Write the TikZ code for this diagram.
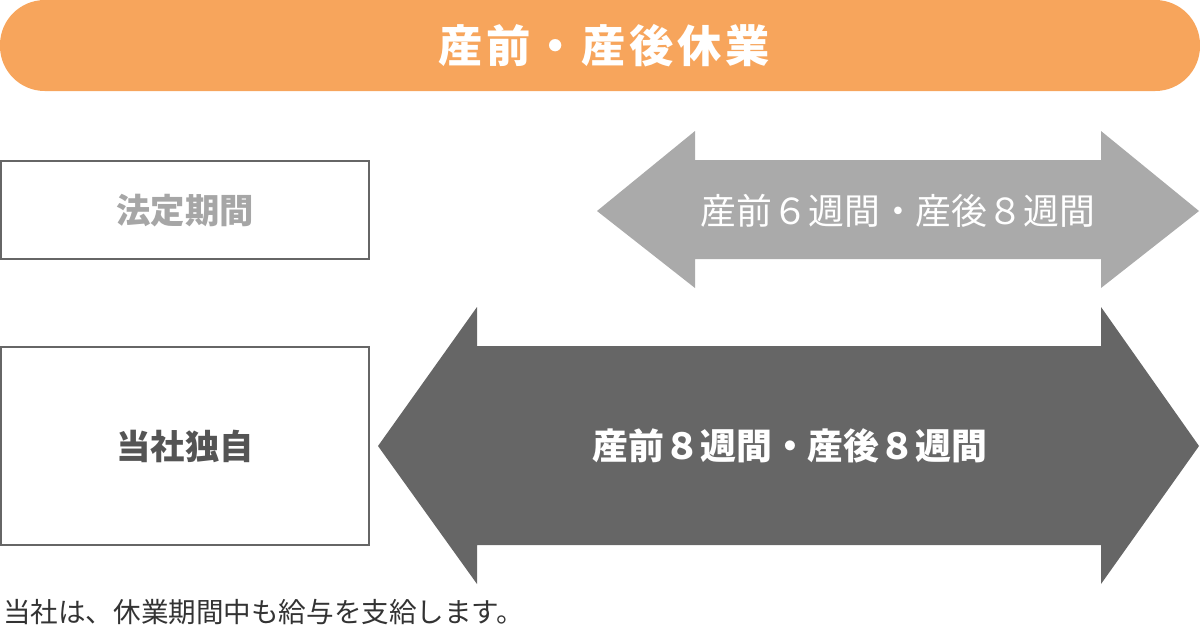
\documentclass[tikz,border=0pt]{standalone}
\usepackage{fontspec}
\newfontfamily\jp{Noto Sans CJK JP}
\definecolor{bannerorange}{HTML}{F7A55C}
\definecolor{lightarrow}{HTML}{AAAAAA}
\definecolor{darkarrow}{HTML}{666666}
\definecolor{boxline}{HTML}{666666}
\tikzset{
  labelbox/.style={draw=boxline, line width=1pt, inner sep=0pt},
  boxtext/.style={font=\jp\bfseries\fontsize{24.4}{28}\selectfont},
  arrowtext/.style={text=white, font=\jp\fontsize{25.5}{30}\selectfont}
}
\begin{document}
\begin{tikzpicture}[x=0.025cm, y=-0.025cm]
  \useasboundingbox (0,0) rectangle (1200,634);
  % title banner
  \fill[bannerorange, rounded corners=1.12cm] (0,0) rectangle (1200,91);
  \node[text=white, font=\jp\bfseries\fontsize{31.5}{36}\selectfont\addfontfeature{LetterSpace=8}] (title) at (604,46) {産前・産後休業};
  % row labels
  \draw[labelbox] (1,161) rectangle (369,259);
  \node[boxtext, text=black!35] (legal) at (185,211) {法定期間};
  \draw[labelbox] (1,347) rectangle (369,545);
  \node[boxtext, text=black!67] (own) at (185,446) {当社独自};
  % statutory period arrow
  \fill[lightarrow] (597,211) -- (695,131) -- (695,160) -- (1101,160) -- (1101,131)
    -- (1199,211) -- (1101,288) -- (1101,259) -- (695,259) -- (695,288) -- cycle;
  \node[arrowtext] (legalspan) at (898,211) {産前６週間・産後８週間};
  % company period arrow
  \fill[darkarrow] (378,446) -- (477,307) -- (477,346) -- (1101,346) -- (1101,307)
    -- (1199,446) -- (1101,584) -- (1101,545) -- (477,545) -- (477,584) -- cycle;
  \node[arrowtext, font=\jp\bfseries\fontsize{25.5}{30}\selectfont] (ownspan) at (790,446) {産前８週間・産後８週間};
  % footnote
  \node[anchor=west, inner sep=0pt, text=black!80, font=\jp\fontsize{19.6}{22}\selectfont] (note) at (3,612) {当社は、休業期間中も給与を支給します。};
\end{tikzpicture}
\end{document}
